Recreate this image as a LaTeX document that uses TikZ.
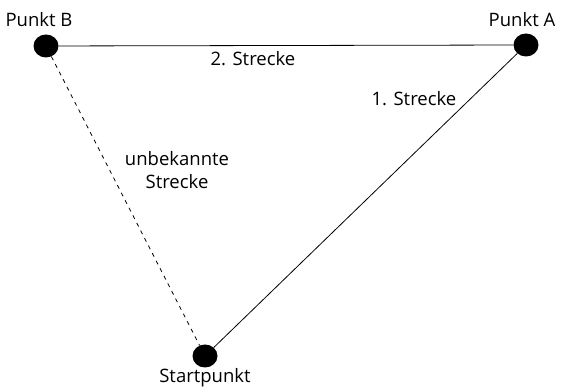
\documentclass[tikz,border=0pt]{standalone}
\usepackage{fontspec}
\setmainfont{Open Sans}
\usetikzlibrary{shapes.geometric}
\begin{document}
\begin{tikzpicture}[x=1pt,y=1pt,
  pt/.style={ellipse,fill=black,minimum width=25pt,minimum height=23pt,inner sep=0pt},
  conn/.style={line width=0.8pt},
  lbl/.style={font=\fontsize{18.5}{23}\selectfont,inner sep=0pt,align=center}]
\useasboundingbox (0,0) rectangle (562,387);
\node[pt] (B) at (46,341) {};
\node[pt] (A) at (526,342) {};
\node[pt] (S) at (205,31) {};
\draw[conn] (B) -- (A);
\draw[conn] (A) -- (S);
\draw[conn,dash pattern=on 4pt off 4.5pt] (B) -- (S);
\node[lbl] (lB) at (39,367) {Punkt B};
\node[lbl] (lA) at (522,367) {Punkt A};
\node[lbl] (l2) at (253,328) {2. Strecke};
\node[lbl] (l1) at (414,288) {1. Strecke};
\node[lbl] (lu) at (177,217) {unbekannte\\Strecke};
\node[lbl] (lS) at (205,9) {Startpunkt};
\end{tikzpicture}
\end{document}
